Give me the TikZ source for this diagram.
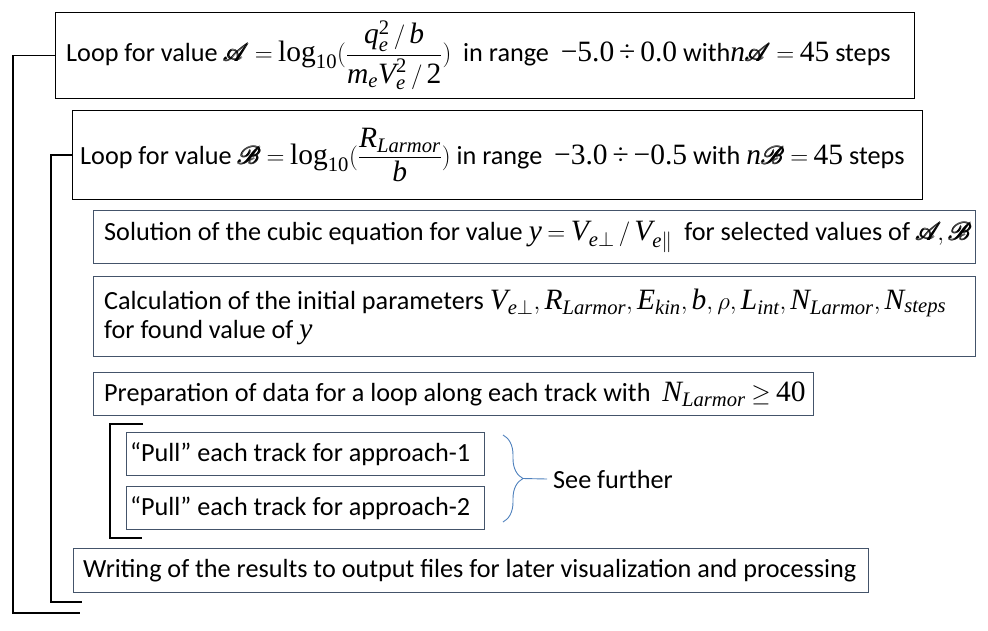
\documentclass[tikz,border=0pt]{standalone}
\usepackage{amsmath}
\usepackage{mathrsfs}
\usepackage{fontspec}
\setmainfont{Carlito}
\newfontfamily\tnr{Liberation Serif}
\usetikzlibrary{decorations.pathreplacing}
\definecolor{boxblue}{HTML}{44546A}
\definecolor{braceblue}{HTML}{4F81BD}
\newcommand\mi[1]{\text{\tnr\itshape #1}}
\newcommand\mn[1]{\text{\tnr #1}}
\newcommand\cA{\pmb{\mathscr{A}}}
\newcommand\cB{\pmb{\mathscr{B}}}
\newcommand\M[1]{{\fontsize{29.5}{33}\selectfont\thickmuskip=4mu\medmuskip=3mu$#1$}}
\begin{document}
\begin{tikzpicture}[x=1pt,y=-1pt,
  blackbox/.style={draw=black, line width=1.1pt, anchor=north west, inner sep=0pt},
  bluebox/.style={draw=boxblue, line width=1pt, anchor=north west, inner sep=0pt},
  txt/.style={anchor=west, inner sep=0pt, font=\fontsize{26.2}{31}\selectfont, align=left},
  bracket/.style={draw=black, line width=1.8pt},
  bracecol/.style={draw=braceblue, line width=0.9pt}]
\useasboundingbox (0,0) rectangle (988,630);
% boxes
\node[blackbox, minimum width=859pt, minimum height=86pt] (A) at (55,12) {};
\node[blackbox, minimum width=850pt, minimum height=89pt] (B) at (72,110) {};
\node[bluebox, minimum width=882pt, minimum height=53pt] (C) at (93,210) {};
\node[bluebox, minimum width=882pt, minimum height=80pt] (D) at (93,276) {};
\node[bluebox, minimum width=720pt, minimum height=43pt] (E) at (93,372) {};
\node[bluebox, minimum width=358pt, minimum height=43pt] (P1) at (126,432) {};
\node[bluebox, minimum width=358pt, minimum height=43pt] (P2) at (126,486) {};
\node[bluebox, minimum width=795pt, minimum height=44pt] (G) at (73,548) {};
% texts
\node[txt] (At) at ([xshift=11pt]A.west) {Loop for value \M{\cA=\mn{log}_{\mn{10}}(\dfrac{\mi{q}_{\mi{e}}^{\mn{2}}\,/\,\mi{b}}{\mi{m}_{\mi{e}}\mi{V}_{\mi{e}}^{\mn{2}}\,/\,\mn{2}})}\ \ in range \ \M{\mn{−5.0\,÷\,0.0}}\ with\M{\mi{n}\cA=\mn{45}} steps};
\node[txt] (Bt) at ([xshift=8pt]B.west) {Loop for value \M{\cB=\mn{log}_{\mn{10}}(\dfrac{\mi{R}_{\mi{Larmor}}}{\mi{b}})}\ in range \ \M{\mn{−3.0\,÷\,−0.5}} with \M{\mi{n}\cB=\mn{45}} steps};
\node[txt] (Ct) at ([xshift=11pt]C.west) {Solution of the cubic equation for value \M{\mi{y}=\mi{V}_{\mi{e}\perp}\,/\,\mi{V}_{\mi{e}\|}}\ \ for selected values of \M{\cA\!,\cB}};
\node[txt] (Dt) at ([xshift=11pt]D.west) {Calculation of the initial parameters \M{\mi{V}_{\mi{e}\perp},\mi{R}_{\mi{Larmor}},\mi{E}_{\mi{kin}},\mi{b},\rho,\mi{L}_{\mi{int}},\mi{N}_{\mi{Larmor}},\mi{N}_{\mi{steps}}}\\[-2pt] for found value of \M{\mi{y}}};
\node[txt] (Et) at ([xshift=11pt]E.west) {Preparation of data for a loop along each track with \ \M{\mi{N}_{\mi{Larmor}}\geq\mn{40}}};
\node[txt] (P1t) at ([xshift=4pt]P1.west) {“Pull” each track for approach-1};
\node[txt] (P2t) at ([xshift=4pt]P2.west) {“Pull” each track for approach-2};
\node[txt] (Gt) at ([xshift=10pt]G.west) {Writing of the results to output files for later visualization and processing};
\node[txt, inner xsep=6pt] (sf) at (547,479) {See further};
% brackets
\coordinate (o0) at (13,613);
\coordinate (o1) at (80,613);
\coordinate (i0) at (51,602);
\coordinate (i1) at (82,602);
\draw[bracket] (A.west) -| (o0) -- (o1);
\draw[bracket] (B.west) -| (i0) -- (i1);
\coordinate (p0) at (143,424);
\coordinate (p1) at (110,424);
\coordinate (p2) at (110,538);
\coordinate (p3) at (142,538);
\draw[bracket] (p0) -- (p1) -- (p2) -- (p3);
% brace
\coordinate (b0) at (503,435);
\coordinate (b1) at (503,522);
\coordinate (bt) at (523,478.5);
\draw[bracecol, decorate, decoration={brace, amplitude=20pt}] (b0) -- (b1);
\draw[bracecol] (bt) -- (sf.west);
\end{tikzpicture}
\end{document}
